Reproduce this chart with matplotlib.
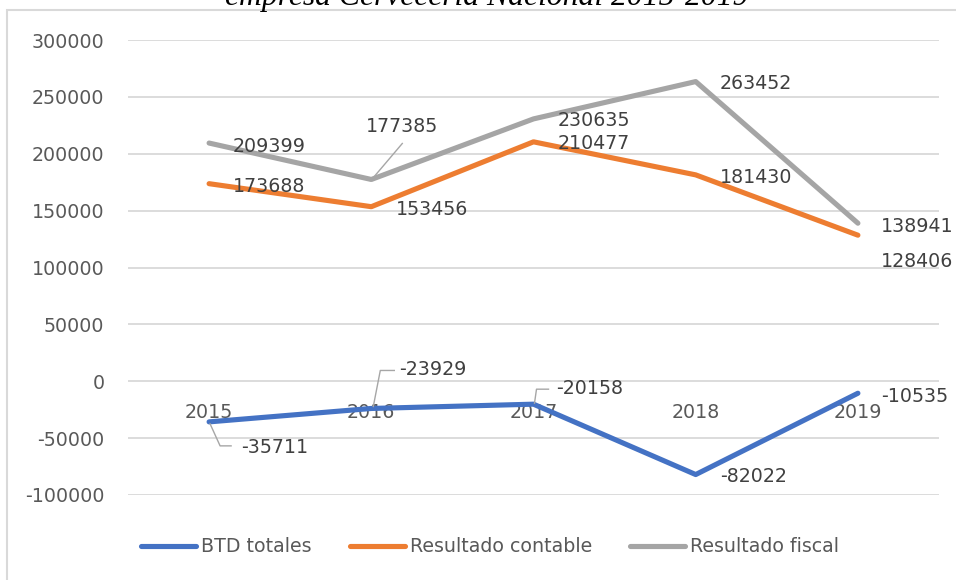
import matplotlib
matplotlib.use("Agg")
import matplotlib.pyplot as plt
from matplotlib.transforms import Affine2D
from matplotlib.patches import Rectangle

years = ["2015", "2016", "2017", "2018", "2019"]
btd_totales = [-35711, -23929, -20158, -82022, -10535]
resultado_contable = [173688, 153456, 210477, 181430, 128406]
resultado_fiscal = [209399, 177385, 230635, 263452, 138941]
series_names = ["BTD totales", "Resultado contable", "Resultado fiscal"]
y_ticks = [-100000, -50000, 0, 50000, 100000, 150000, 200000, 250000, 300000]

colors = ["#4472C4", "#ED7D31", "#A5A5A5"]
W, H = 956, 580
fig = plt.figure(figsize=(W / 100, H / 100), dpi=100)
plt.rcParams['font.family'] = ['DejaVu Sans']

# frame of chart area
fig.patches.append(Rectangle((6.5 / W, -0.1), 1.2, (H - 10) / H + 0.1, transform=fig.transFigure,
                             fill=False, edgecolor="#D9D9D9", linewidth=1.5))

fig.text(487 / W, 1 - 5.5 / H, "empresa Cervecería Nacional 2015-2019", ha="center", va="baseline",
         fontsize=22.8, style="italic", family="Liberation Serif", color="#000000")

ax = fig.add_axes([128 / W, (H - 495) / H, (939 - 128) / W, (495 - 40) / H])
x = list(range(len(years)))
lw = 3.7
for vals, c, name in zip([btd_totales, resultado_contable, resultado_fiscal], colors, series_names):
    ax.plot(x, vals, color=c, linewidth=lw, solid_capstyle="round", solid_joinstyle="round",
            label=name, zorder=3)

ax.set_xlim(-0.5, 4.5)
ax.set_ylim(-100000, 300000)
ax.set_yticks(y_ticks)
ax.set_yticklabels([str(v) for v in y_ticks])
ax.set_xticks(x)
ax.set_xticklabels(years)
ax.grid(axis="y", color="#D9D9D9", linewidth=1.3, zorder=0)
ax.set_axisbelow(True)
for s in ["left", "right", "top"]:
    ax.spines[s].set_visible(False)
ax.spines["bottom"].set_position(("data", 0))
ax.spines["bottom"].set_visible(False)
ax.tick_params(axis="both", length=0, labelsize=13.7, labelcolor="#595959")
ax.tick_params(axis="x", pad=15.5)
ax.tick_params(axis="y", pad=17)

# data labels: (dx_left, dy_center) in pixels relative to point (image coords, y down)
label_offsets = {
    0: [(32, 26), (28, -39), (23, -16), (24, 2), (23, 3)],
    1: [(24, 3), (25, 3), (24, 2), (24, 3), (23, 26)],
    2: [(24, 3), (-5, -53), (24, 2), (24, 2), (23, 3)],
}
leaders = {
    (0, 0): [(1, 2), (11, 24), (22, 24)],
    (0, 1): [(2, -2), (9, -38), (23, -38)],
    (0, 2): [(1, -1), (3, -15), (15, -15)],
    (2, 1): [(3, -3), (31, -36)],
}
all_series = [btd_totales, resultado_contable, resultado_fiscal]
fig.canvas.draw()
for si, vals in enumerate(all_series):
    for i, v in enumerate(vals):
        dx, dy = label_offsets[si][i]
        ax.annotate(str(v), xy=(i, v), xytext=(dx, -dy), textcoords="offset pixels",
                    ha="left", va="center", fontsize=13.7, color="#404040", zorder=5)
        if (si, i) in leaders:
            px, py = ax.transData.transform((i, v))
            pts = leaders[(si, i)]
            xs = [px + a for a, b in pts]
            ys = [py - b for a, b in pts]
            ax.plot(xs, ys, transform=Affine2D(), color="#A6A6A6", linewidth=1.0, zorder=4,
                    clip_on=False)

leg = fig.legend(loc="center", bbox_to_anchor=(490 / W, (H - 547) / H), ncol=3, frameon=False,
                 fontsize=13.7, handlelength=2.9, handletextpad=0.25, columnspacing=2.0)
for t in leg.get_texts():
    t.set_color("#595959")

fig.savefig("out.png", dpi=100)
